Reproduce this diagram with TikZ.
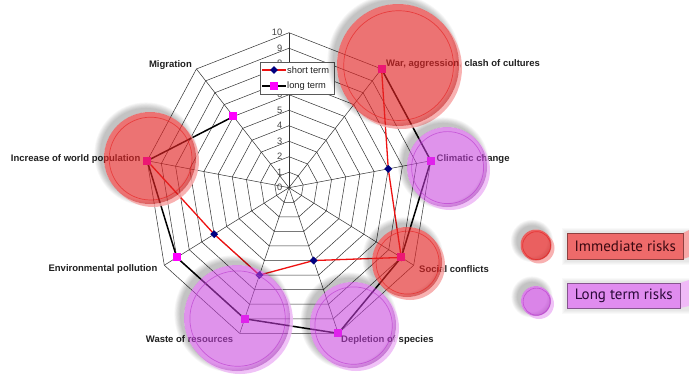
\documentclass[tikz,border=0pt]{standalone}
\usepackage{fontspec}
\setmainfont{Liberation Sans}
\newfontfamily\boxfont{PT Sans}
\usetikzlibrary{calc,shapes.geometric}

\definecolor{gridc}{HTML}{303030}
\definecolor{shortc}{HTML}{EE1111}
\definecolor{navyc}{HTML}{000080}
\definecolor{magc}{HTML}{FF00FF}
\definecolor{textc}{HTML}{202020}
\definecolor{redface}{HTML}{E22424}
\definecolor{redrim}{HTML}{F7A4A4}
\definecolor{redring}{HTML}{E51A1A}
\definecolor{pinkface}{HTML}{C640DC}
\definecolor{pinkrim}{HTML}{EEB8F6}
\definecolor{pinkring}{HTML}{B835CC}
\definecolor{immfill}{HTML}{EE6A6A}
\definecolor{immside}{HTML}{F7A6A6}
\definecolor{immtext}{HTML}{3A0810}
\definecolor{longfill}{HTML}{E08CEF}
\definecolor{longside}{HTML}{F0BAF7}
\definecolor{longtext}{HTML}{2A0838}

\tikzset{
  gridline/.style={draw=gridc, line width=0.5pt},
  catlabel/.style={font=\bfseries\fontsize{9.5}{11}\selectfont, text=textc, inner sep=0pt},
  ticklabel/.style={font=\fontsize{9.3}{10}\selectfont, text=textc!85, inner sep=0pt, anchor=east},
  shortline/.style={draw=shortc, line width=1.3pt, line join=round},
  longline/.style={draw=black, line width=1.5pt, line join=round},
  shortmark/.style={diamond, fill=navyc, inner sep=0pt, minimum width=8pt, minimum height=8pt},
  longmark/.style={rectangle, fill=magc, inner sep=0pt, minimum size=8pt},
  legtext/.style={font=\fontsize{9.3}{11}\selectfont, text=textc, inner sep=0pt, anchor=west},
  riskbox/.style={rectangle, anchor=north west, inner sep=0pt,
    font=\boxfont\fontsize{15}{17}\selectfont, line width=0.6pt},
}

% a translucent disc with a soft upper-left shadow, a lighter rim on the lower right and an inner ring
\newcommand\riskdisc[5]{% centre x, centre y, radius, tone (red/pink), face opacity
  \foreach \i in {0,...,7}
    \fill[black, opacity=0.03, even odd rule]
      ($(#1,#2)+(-4pt,4pt)$) circle[radius={(#3+0.8*\i)*1pt}]
      (#1,#2) circle[radius=#3pt];
  \fill[#4rim, opacity=0.85]
    ($(#1,#2)+(3pt,-3pt)+(45:#3pt)$) arc[start angle=45, end angle=-135, radius=#3pt]
    -- ($(#1,#2)+(-135:#3pt)$) arc[start angle=-135, end angle=45, radius=#3pt] -- cycle;
  \fill[#4face, opacity=#5] (#1,#2) circle[radius=#3pt];
  \draw[#4ring, opacity=0.6, line width=0.7pt] ($(#1,#2)+(0.6pt,-0.6pt)$) circle[radius={0.9*#3pt}];
}

\begin{document}
\begin{tikzpicture}[x=1pt, y=-1pt]
\useasboundingbox (0,0) rectangle (689,378);
\fill[white] (0,0) rectangle (689,378);

% radar grid: nine axes, rings 1..10
\begin{scope}[shift={(289,187.7)}, x=14.4pt, y=15.5pt]
  \foreach \k in {1,...,10}
    \draw[gridline] (90:\k) \foreach \a in {50,10,-30,-70,-110,-150,170,130} { -- (\a:\k) } -- cycle;
  \foreach \a in {90,50,10,-30,-70,-110,-150,170,130}
    \draw[gridline] (0,0) -- (\a:10);
  \foreach \k in {0,...,10}
    \node[ticklabel] (tick\k) at (-0.45,\k) {\k};

  % short term values
  \coordinate (s1) at (50:10);
  \coordinate (s2) at (10:7);
  \coordinate (s3) at (-30:9);
  \coordinate (s4) at (-70:5);
  \coordinate (s5) at (-110:6);
  \coordinate (s6) at (-150:6);
  \coordinate (s7) at (170:10);
  % long term values
  \coordinate (l1) at (50:10);
  \coordinate (l2) at (10:10);
  \coordinate (l3) at (-30:9);
  \coordinate (l4) at (-70:10);
  \coordinate (l5) at (-110:9);
  \coordinate (l6) at (-150:9);
  \coordinate (l7) at (170:10);
  \coordinate (l8) at (130:6);
\end{scope}

\draw[shortline] (s1) -- (s2) -- (s3) -- (s4) -- (s5) -- (s6) -- (s7);
\foreach \i in {1,...,7} \node[shortmark] (ms\i) at (s\i) {};
\draw[longline] (l1) -- (l2) -- (l3) -- (l4) -- (l5) -- (l6) -- (l7) -- (l8);
\foreach \i in {1,...,8} \node[longmark] (ml\i) at (l\i) {};

% category labels
\node[catlabel, anchor=east] (cMig) at (192,65) {Migration};
\node[catlabel, anchor=west] (cWar) at (386,64.5) {War, aggression, clash of cultures};
\node[catlabel, anchor=west] (cCli) at (436.5,159.3) {Climatic change};
\node[catlabel, anchor=west] (cSoc) at (419,269) {Social conflicts};
\node[catlabel, anchor=west] (cDep) at (341,340) {Depletion of species};
\node[catlabel, anchor=west] (cWas) at (145.7,339.3) {Waste of resources};
\node[catlabel, anchor=east] (cEnv) at (157.5,269) {Environmental pollution};
\node[catlabel, anchor=east] (cPop) at (140.5,159.3) {Increase of world population};

% series legend
\node[draw=gridc!80, fill=white, line width=0.5pt, minimum width=74pt, minimum height=32pt,
      anchor=north west, inner sep=0pt] (legbox) at (259.5,61.5) {};
\coordinate (ls0) at (262,70); \coordinate (ls1) at (286,70);
\draw[shortline, line width=1.2pt] (ls0) -- (ls1);
\node[shortmark] (lsm) at ($(ls0)!0.5!(ls1)$) {};
\node[legtext] (lst) at (287,70) {short term};
\coordinate (ll0) at (262,86); \coordinate (ll1) at (286,86);
\draw[longline, line width=1.3pt] (ll0) -- (ll1);
\node[longmark] (llm) at ($(ll0)!0.5!(ll1)$) {};
\node[legtext] (llt) at (287,86) {long term};

% risk discs over the chart
\riskdisc{398}{65}{61}{red}{0.64}
\riskdisc{447}{167}{40}{pink}{0.56}
\riskdisc{150}{158}{46}{red}{0.64}
\riskdisc{407}{262}{35}{red}{0.64}
\riskdisc{353}{325}{43}{pink}{0.56}
\riskdisc{237}{318}{53}{pink}{0.56}

% risk legend
\riskdisc{536}{245}{15.5}{red}{0.72}
\riskdisc{536}{301}{15}{pink}{0.64}
\foreach \i in {1,...,4} {
  \fill[black, opacity=0.025] (566-\i,232-\i) rectangle (690,261+\i);
  \fill[black, opacity=0.025] (566-\i,282-\i) rectangle (690,310+\i);
}
\fill[immside] (683,233) -- (689,230) -- (689,257) -- (683,259) -- cycle;
\node[riskbox, fill=immfill, draw=immfill!60!black, minimum width=116pt, minimum height=26pt,
      text=immtext] (immbox) at (567,233) {Immediate risks};
\fill[longside] (680,283) -- (689,280) -- (689,306) -- (680,308) -- cycle;
\node[riskbox, fill=longfill, draw=longfill!60!black, minimum width=113pt, minimum height=25pt,
      text=longtext] (longbox) at (567,283) {Long term risks};
\end{tikzpicture}
\end{document}
